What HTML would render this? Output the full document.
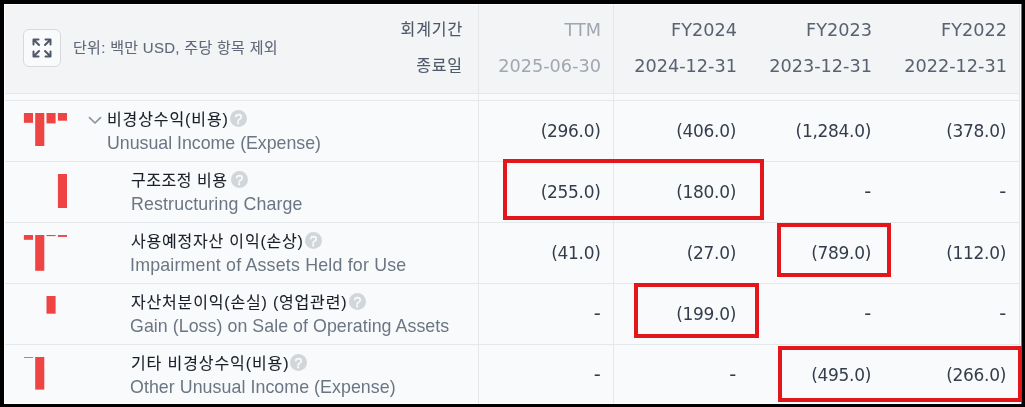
<!DOCTYPE html>
<html lang="ko">
<head>
<meta charset="utf-8">
<title>비경상수익(비용)</title>
<style>
html,body{margin:0;padding:0;}
body{width:1025px;height:407px;background:#000;position:relative;overflow:hidden;
  font-family:"Liberation Sans","Noto Sans CJK KR",sans-serif;}
.a{position:absolute;}
#frame{left:4px;top:4px;width:1017px;height:400px;background:#fff;}
#content{left:5px;top:5px;width:1015px;height:398px;background:#f9fafb;}
#head{left:5px;top:5px;width:1015px;height:88px;background:#f2f4f6;}
.hl{left:5px;width:1015px;height:1px;background:#e5e8eb;}
.vl{top:4px;width:1px;height:400px;background:#e5e8eb;}
#btn{left:23px;top:29px;width:36px;height:36px;border:1px solid #d6dadf;border-radius:6px;background:#f9fafb;}
.t{white-space:nowrap;line-height:20px;}
.unit{font-size:15px;color:#5f6977;letter-spacing:0.3px;-webkit-text-stroke:0.1px #5f6977;}
.hk{font-size:16px;letter-spacing:0.9px;color:#4e5968;-webkit-text-stroke:0.1px #4e5968;text-align:right;font-family:"Liberation Sans","Noto Sans CJK KR",sans-serif;}
.hn{font-family:"DejaVu Sans",sans-serif;font-size:17.7px;text-align:right;color:#596270;}
.hn.g{color:#a0a7b0;}
.ko{font-family:"Liberation Sans","Noto Sans CJK KR",sans-serif;font-size:16px;letter-spacing:0.9px;color:#191f28;-webkit-text-stroke:0.1px #191f28;}
.en{font-family:"Liberation Sans",sans-serif;font-size:17.8px;color:#6b7684;}
.num{font-family:"DejaVu Sans",sans-serif;font-size:17px;letter-spacing:-0.3px;color:#333d4b;text-align:right;}
.dash{font-size:19.5px;}
.q{width:17px;height:17px;border-radius:50%;background:#d1d6db;color:#f9fafb;font-family:"Liberation Sans",sans-serif;font-weight:normal;font-size:14px;line-height:18px;text-align:center;-webkit-text-stroke:0.5px #f9fafb;}
.rb{border:4px solid #e3161b;box-sizing:border-box;}
svg{position:absolute;overflow:visible;}
</style>
</head>
<body>
<div id="frame" class="a"></div>
<div class="a" style="left:1021px;top:4px;width:1px;height:400px;background:#707070"></div>
<div id="content" class="a"></div>
<div id="head" class="a"></div>

<!-- grid lines -->
<div class="a hl" style="top:93px"></div>
<div class="a hl" style="top:100px"></div>
<div class="a hl" style="top:161px"></div>
<div class="a hl" style="top:222px"></div>
<div class="a hl" style="top:283px"></div>
<div class="a hl" style="top:344px"></div>
<div class="a vl" style="left:478px"></div>
<div class="a vl" style="left:613px"></div>
<div class="a vl" style="left:1019px"></div>

<!-- header left -->
<div id="btn" class="a"></div>
<svg style="left:32px;top:38px" width="20" height="20" viewBox="0 0 20 20" fill="none" stroke="#4e5968" stroke-width="2" stroke-linecap="round" stroke-linejoin="round">
  <path d="M1.5 6.5V1.5H6.5M1.5 1.5L7 7"/>
  <path d="M18.5 6.5V1.5H13.5M18.5 1.5L13 7"/>
  <path d="M1.5 13.5V18.5H6.5M1.5 18.5L7 13"/>
  <path d="M18.5 13.5V18.5H13.5M18.5 18.5L13 13"/>
</svg>
<div class="a t unit" style="left:73px;top:38px">단위: 백만 USD, 주당 항목 제외</div>

<div class="a t hk" style="left:380px;width:83px;top:20px">회계기간</div>
<div class="a t hk" style="left:380px;width:83px;top:56px">종료일</div>

<div class="a t hn g" style="left:479px;width:122px;top:20px">TTM</div>
<div class="a t hn g" style="left:479px;width:122px;top:56px">2025-06-30</div>
<div class="a t hn" style="left:614px;width:123px;top:20px">FY2024</div>
<div class="a t hn" style="left:614px;width:123px;top:56px">2024-12-31</div>
<div class="a t hn" style="left:750px;width:122px;top:20px">FY2023</div>
<div class="a t hn" style="left:750px;width:122px;top:56px">2023-12-31</div>
<div class="a t hn" style="left:885px;width:122px;top:20px">FY2022</div>
<div class="a t hn" style="left:885px;width:122px;top:56px">2022-12-31</div>

<!-- row 1 -->
<svg style="left:0;top:0" width="120" height="407">
  <g fill="#ef4444">
    <rect x="23.9" y="113" width="9.1" height="9.8"/>
    <rect x="35.2" y="113" width="9.1" height="33"/>
    <rect x="46.5" y="113" width="9.1" height="10.4"/>
    <rect x="57.9" y="113" width="9.1" height="7.7"/>
    <!-- row 2 -->
    <rect x="57.9" y="174" width="9.1" height="34"/>
    <!-- row 3 -->
    <rect x="23.9" y="235" width="9.1" height="4.8"/>
    <rect x="35.2" y="235" width="9.1" height="35.8"/>
    <rect x="46.5" y="235" width="9.1" height="1.1"/>
    <rect x="57.9" y="235" width="9.1" height="1.9"/>
    <!-- row 4 -->
    <rect x="46.5" y="296" width="9.1" height="17.7"/>
    <!-- row 5 -->
    <rect x="23.9" y="357" width="9.1" height="0.8"/>
    <rect x="35.2" y="357" width="9.1" height="32.6"/>
  </g>
  <path d="M89.5 117.6L95 123L100.5 117.6" fill="none" stroke="#8b95a1" stroke-width="1.7" stroke-linecap="round" stroke-linejoin="round"/>
</svg>

<div class="a t ko" style="left:107px;top:110px">비경상수익(비용)</div>
<div class="a q" style="left:230px;top:110px">?</div>
<div class="a t en" style="left:107px;top:133px;letter-spacing:-0.02px">Unusual Income (Expense)</div>

<div class="a t ko" style="left:131px;top:171px;letter-spacing:0.55px">구조조정 비용</div>
<div class="a q" style="left:231px;top:171px">?</div>
<div class="a t en" style="left:131px;top:194px;letter-spacing:0.13px">Restructuring Charge</div>

<div class="a t ko" style="left:131px;top:232px;letter-spacing:0.8px">사용예정자산 이익(손상)</div>
<div class="a q" style="left:305px;top:232px">?</div>
<div class="a t en" style="left:130px;top:255px;letter-spacing:0.2px">Impairment of Assets Held for Use</div>

<div class="a t ko" style="left:131px;top:293px;letter-spacing:0.82px">자산처분이익(손실) (영업관련)</div>
<div class="a q" style="left:349px;top:293px">?</div>
<div class="a t en" style="left:130px;top:316px;letter-spacing:0.05px">Gain (Loss) on Sale of Operating Assets</div>

<div class="a t ko" style="left:131px;top:354px">기타 비경상수익(비용)</div>
<div class="a q" style="left:290px;top:354px">?</div>
<div class="a t en" style="left:130px;top:377px;letter-spacing:0.06px">Other Unusual Income (Expense)</div>

<!-- numbers -->
<div class="a t num" style="left:478.5px;width:122px;top:121px">(296.0)</div>
<div class="a t num" style="left:613px;width:123px;top:121px">(406.0)</div>
<div class="a t num" style="left:749px;width:122px;top:121px">(1,284.0)</div>
<div class="a t num" style="left:884px;width:122px;top:121px">(378.0)</div>

<div class="a t num" style="left:478.5px;width:122px;top:182px">(255.0)</div>
<div class="a t num" style="left:613px;width:123px;top:182px">(180.0)</div>
<div class="a t num dash" style="left:749px;width:122px;top:182px">-</div>
<div class="a t num dash" style="left:884px;width:122px;top:182px">-</div>

<div class="a t num" style="left:478.5px;width:122px;top:243px">(41.0)</div>
<div class="a t num" style="left:613px;width:123px;top:243px">(27.0)</div>
<div class="a t num" style="left:749px;width:122px;top:243px">(789.0)</div>
<div class="a t num" style="left:884px;width:122px;top:243px">(112.0)</div>

<div class="a t num dash" style="left:478.5px;width:122px;top:304px">-</div>
<div class="a t num" style="left:613px;width:123px;top:304px">(199.0)</div>
<div class="a t num dash" style="left:749px;width:122px;top:304px">-</div>
<div class="a t num dash" style="left:884px;width:122px;top:304px">-</div>

<div class="a t num dash" style="left:478.5px;width:122px;top:365px">-</div>
<div class="a t num dash" style="left:613px;width:123px;top:365px">-</div>
<div class="a t num" style="left:749px;width:122px;top:365px">(495.0)</div>
<div class="a t num" style="left:884px;width:122px;top:365px">(266.0)</div>

<!-- red highlight boxes -->
<div class="a rb" style="left:503px;top:159px;width:261px;height:61px"></div>
<div class="a rb" style="left:777px;top:223px;width:114px;height:54px"></div>
<div class="a rb" style="left:634px;top:283px;width:125px;height:55px"></div>
<div class="a rb" style="left:778px;top:346px;width:244px;height:56px"></div>
</body>
</html>
